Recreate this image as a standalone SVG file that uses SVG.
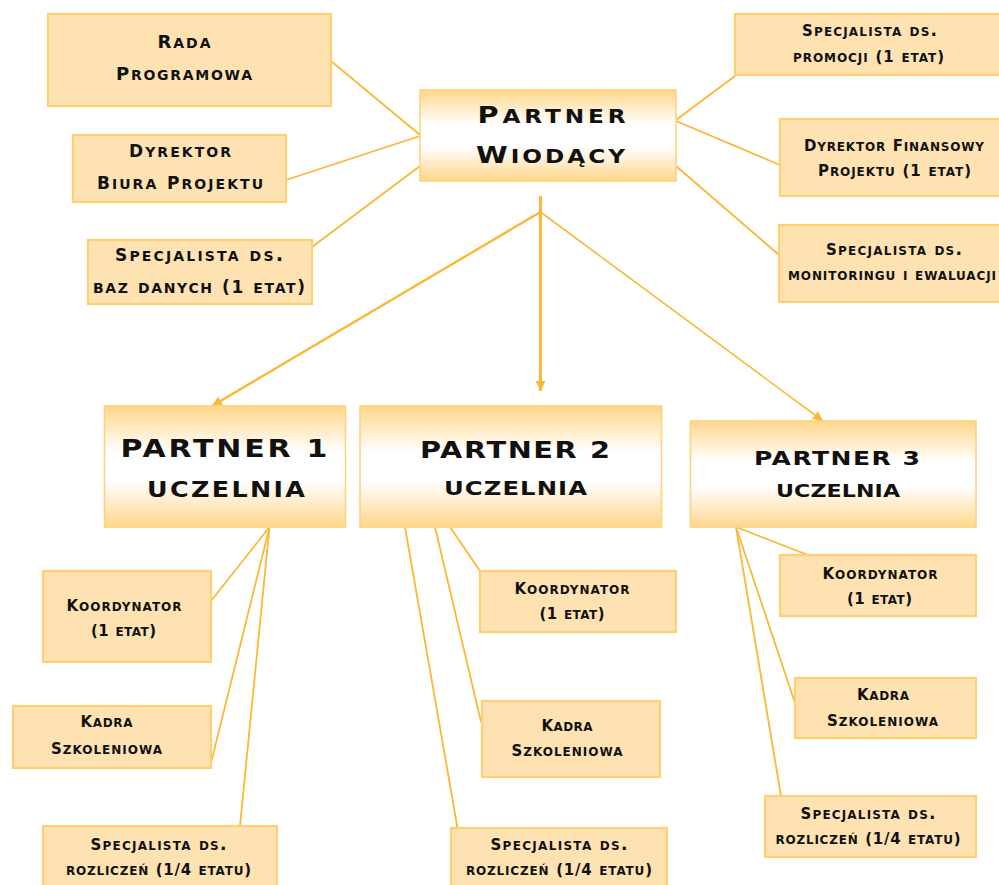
<svg xmlns="http://www.w3.org/2000/svg" width="999" height="885" viewBox="0 0 999 885">
<defs>
<style>
.box{fill:#FFE2B1;stroke:#FFCF73;stroke-width:2.2}
.pbox{stroke:#FFD27C;stroke-width:1.6}
.t{font-family:"DejaVu Sans","Liberation Sans",sans-serif;font-weight:bold;font-variant:small-caps;fill:#111;text-anchor:middle}
.k{font-size:0.875em}
.c{fill:none;stroke:#FBB737;stroke-width:1.8}
.a{fill:none;stroke:#FBB737}
</style>
<linearGradient id="pg" x1="0" y1="0" x2="0" y2="1">
<stop offset="0" stop-color="#FFD68A"/>
<stop offset="0.38" stop-color="#FFFFFF"/>
<stop offset="0.62" stop-color="#FFFFFF"/>
<stop offset="1" stop-color="#FFD68C"/>
</linearGradient>
<marker id="ah" viewBox="0 0 10 10" refX="10" refY="5" markerWidth="10" markerHeight="10" markerUnits="userSpaceOnUse" orient="auto">
<path d="M0,0 L10,5 L0,10 z" fill="#FBB737"/>
</marker>
</defs>
<rect width="999" height="885" fill="#FFFFFF"/>

<g id="connectors">
<line class="c" x1="331" y1="61" x2="420" y2="135"/>
<line class="c" x1="286" y1="180" x2="420" y2="136"/>
<line class="c" x1="312" y1="247" x2="420" y2="166"/>
<line class="c" x1="676" y1="120" x2="735" y2="76"/>
<line class="c" x1="676" y1="121" x2="780" y2="165"/>
<line class="c" x1="676" y1="166" x2="779" y2="255"/>
<line class="a" stroke-width="3" x1="540.5" y1="196" x2="540.5" y2="391" marker-end="url(#ah)"/>
<line class="a" stroke-width="2.4" x1="540.5" y1="212" x2="212" y2="406" marker-end="url(#ah)"/>
<line class="a" stroke-width="1.6" x1="540.5" y1="212" x2="823" y2="421" marker-end="url(#ah)"/>
<line class="c" x1="269.5" y1="527" x2="211" y2="601"/>
<line class="c" x1="269.5" y1="527" x2="211" y2="763"/>
<line class="c" x1="269.5" y1="527" x2="240" y2="826"/>
<line class="c" x1="405" y1="527" x2="457.5" y2="828"/>
<line class="c" x1="435" y1="527" x2="481" y2="722"/>
<line class="c" x1="450" y1="527" x2="480" y2="571"/>
<line class="c" x1="736" y1="527" x2="808" y2="555"/>
<line class="c" x1="736" y1="527" x2="795" y2="703"/>
<line class="c" x1="736" y1="527" x2="781" y2="796"/>
</g>

<g id="rada">
<rect class="box" x="48" y="14" width="283" height="92"/>
<text class="t" x="184" y="48" font-size="20.6" textLength="53" lengthAdjust="spacing"><tspan class="k">R</tspan>ada</text>
<text class="t" x="184" y="80" font-size="20.6" textLength="136" lengthAdjust="spacing"><tspan class="k">P</tspan>rogramowa</text>
</g>
<g id="dyrektor-biura">
<rect class="box" x="73" y="135" width="213" height="67"/>
<text class="t" x="180" y="157" font-size="19.4" textLength="102" lengthAdjust="spacing"><tspan class="k">D</tspan>yrektor</text>
<text class="t" x="180" y="189" font-size="19.4" textLength="166" lengthAdjust="spacing"><tspan class="k">B</tspan>iura <tspan class="k">P</tspan>rojektu</text>
</g>
<g id="spec-baz">
<rect class="box" x="88" y="240" width="224" height="64"/>
<text class="t" x="199" y="261" font-size="19.4" textLength="168" lengthAdjust="spacing"><tspan class="k">S</tspan>pecjalista ds.</text>
<text class="t" x="199" y="293" font-size="19.4" textLength="212" lengthAdjust="spacing">baz danych <tspan class="k">(1</tspan> etat<tspan class="k">)</tspan></text>
</g>
<g id="partner-wiodacy">
<rect class="pbox" x="420" y="90" width="256" height="91" fill="url(#pg)"/>
<text class="t" transform="translate(551.5 0) scale(1.25 1)" x="0" y="123" font-size="26.3" textLength="118.4" lengthAdjust="spacing"><tspan class="k">P</tspan>artner</text>
<text class="t" transform="translate(550.5 0) scale(1.25 1)" x="0" y="163" font-size="26.3" textLength="119.2" lengthAdjust="spacing"><tspan class="k">W</tspan>iodący</text>
</g>
<g id="spec-promocji">
<rect class="box" x="735" y="14" width="272" height="61"/>
<text class="t" x="869.5" y="36" font-size="17.1" textLength="135" lengthAdjust="spacing"><tspan class="k">S</tspan>pecjalista ds.</text>
<text class="t" x="868.5" y="62" font-size="17.1" textLength="151" lengthAdjust="spacing">promocji <tspan class="k">(1</tspan> etat<tspan class="k">)</tspan></text>
</g>
<g id="dyrektor-finansowy">
<rect class="box" x="780" y="119" width="227" height="77"/>
<text class="t" x="894" y="151" font-size="17.1" textLength="180" lengthAdjust="spacing"><tspan class="k">D</tspan>yrektor <tspan class="k">F</tspan>inansowy</text>
<text class="t" x="894.5" y="176" font-size="17.1" textLength="153" lengthAdjust="spacing"><tspan class="k">P</tspan>rojektu <tspan class="k">(1</tspan> etat<tspan class="k">)</tspan></text>
</g>
<g id="spec-monitoringu">
<rect class="box" x="779" y="225" width="228" height="77"/>
<text class="t" x="894" y="255" font-size="17.1" textLength="136" lengthAdjust="spacing"><tspan class="k">S</tspan>pecjalista ds.</text>
<text class="t" x="892" y="280" font-size="17.1" textLength="208" lengthAdjust="spacing">monitoringu i ewaluacji</text>
</g>

<g id="partner1">
<rect class="pbox" x="104.5" y="406" width="241" height="121" fill="url(#pg)"/>
<text class="t" transform="translate(224 0) scale(1.25 1)" x="0" y="457" font-size="24" textLength="165.6" lengthAdjust="spacing">PARTNER 1</text>
<text class="t" transform="translate(226 0) scale(1.25 1)" x="0" y="497" font-size="29" textLength="126.4" lengthAdjust="spacing">uczelnia</text>
</g>
<g id="partner2">
<rect class="pbox" x="360" y="406" width="301.5" height="121" fill="url(#pg)"/>
<text class="t" transform="translate(515 0) scale(1.25 1)" x="0" y="458" font-size="23" textLength="152" lengthAdjust="spacing">PARTNER 2</text>
<text class="t" transform="translate(515.5 0) scale(1.25 1)" x="0" y="495" font-size="28" textLength="114.4" lengthAdjust="spacing">uczelnia</text>
</g>
<g id="partner3">
<rect class="pbox" x="690.5" y="421" width="285.5" height="106" fill="url(#pg)"/>
<text class="t" transform="translate(837 0) scale(1.25 1)" x="0" y="465" font-size="20" textLength="132.8" lengthAdjust="spacing">PARTNER 3</text>
<text class="t" transform="translate(838 0) scale(1.25 1)" x="0" y="497" font-size="25" textLength="99.2" lengthAdjust="spacing">uczelnia</text>
</g>

<g id="p1-koordynator">
<rect class="box" x="43" y="571" width="168" height="91"/>
<text class="t" x="124" y="611" font-size="17.1" textLength="115" lengthAdjust="spacing"><tspan class="k">K</tspan>oordynator</text>
<text class="t" x="123.5" y="636" font-size="17.1" textLength="65" lengthAdjust="spacing"><tspan class="k">(1</tspan> etat<tspan class="k">)</tspan></text>
</g>
<g id="p1-kadra">
<rect class="box" x="13" y="706" width="198" height="62"/>
<text class="t" x="106.5" y="727" font-size="17.1" textLength="52" lengthAdjust="spacing"><tspan class="k">K</tspan>adra</text>
<text class="t" x="106.5" y="754" font-size="17.1" textLength="111" lengthAdjust="spacing"><tspan class="k">S</tspan>zkoleniowa</text>
</g>
<g id="p1-specjalista">
<rect class="box" x="43" y="826" width="234" height="66"/>
<text class="t" x="158.5" y="850" font-size="17.1" textLength="136" lengthAdjust="spacing"><tspan class="k">S</tspan>pecjalista ds.</text>
<text class="t" x="158.5" y="875" font-size="17.1" textLength="185" lengthAdjust="spacing">rozliczeń <tspan class="k">(1/4</tspan> etatu<tspan class="k">)</tspan></text>
</g>

<g id="p2-koordynator">
<rect class="box" x="480" y="571" width="196" height="61"/>
<text class="t" x="572" y="594" font-size="17.1" textLength="115" lengthAdjust="spacing"><tspan class="k">K</tspan>oordynator</text>
<text class="t" x="572" y="619" font-size="17.1" textLength="65" lengthAdjust="spacing"><tspan class="k">(1</tspan> etat<tspan class="k">)</tspan></text>
</g>
<g id="p2-kadra">
<rect class="box" x="482" y="701" width="178" height="76"/>
<text class="t" x="567" y="731" font-size="17.1" textLength="51" lengthAdjust="spacing"><tspan class="k">K</tspan>adra</text>
<text class="t" x="567" y="756" font-size="17.1" textLength="111" lengthAdjust="spacing"><tspan class="k">S</tspan>zkoleniowa</text>
</g>
<g id="p2-specjalista">
<rect class="box" x="451" y="828" width="216" height="64"/>
<text class="t" x="559" y="850" font-size="17.1" textLength="137" lengthAdjust="spacing"><tspan class="k">S</tspan>pecjalista ds.</text>
<text class="t" x="559" y="875" font-size="17.1" textLength="186" lengthAdjust="spacing">rozliczeń <tspan class="k">(1/4</tspan> etatu<tspan class="k">)</tspan></text>
</g>

<g id="p3-koordynator">
<rect class="box" x="780" y="555" width="196" height="61"/>
<text class="t" x="880" y="579" font-size="17.1" textLength="115" lengthAdjust="spacing"><tspan class="k">K</tspan>oordynator</text>
<text class="t" x="879.5" y="604" font-size="17.1" textLength="65" lengthAdjust="spacing"><tspan class="k">(1</tspan> etat<tspan class="k">)</tspan></text>
</g>
<g id="p3-kadra">
<rect class="box" x="795" y="678" width="181" height="60"/>
<text class="t" x="883" y="700" font-size="17.1" textLength="52" lengthAdjust="spacing"><tspan class="k">K</tspan>adra</text>
<text class="t" x="882.5" y="726" font-size="17.1" textLength="111" lengthAdjust="spacing"><tspan class="k">S</tspan>zkoleniowa</text>
</g>
<g id="p3-specjalista">
<rect class="box" x="765" y="796" width="211" height="61"/>
<text class="t" x="868" y="819" font-size="17.1" textLength="135" lengthAdjust="spacing"><tspan class="k">S</tspan>pecjalista ds.</text>
<text class="t" x="868" y="844" font-size="17.1" textLength="185" lengthAdjust="spacing">rozliczeń <tspan class="k">(1/4</tspan> etatu<tspan class="k">)</tspan></text>
</g>
</svg>
